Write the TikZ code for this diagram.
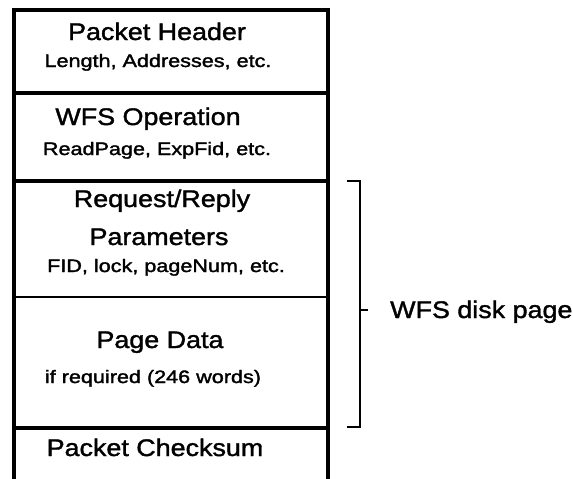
\documentclass[tikz,border=0pt]{standalone}
\usepackage{fontspec}
\newfontfamily\bigf[FakeStretch=1.12,FakeBold=1.5]{Liberation Sans}
\newfontfamily\smallf[FakeStretch=1.2,FakeBold=1.8]{Liberation Sans}
\tikzset{
  big/.style={font=\bigf\fontsize{24}{28}\selectfont, inner sep=0pt, anchor=base},
  small/.style={font=\smallf\fontsize{18}{22}\selectfont, inner sep=0pt, anchor=base},
  thick line/.style={line width=4.5pt},
  divider/.style={line width=3.5pt},
  thin divider/.style={line width=2.5pt},
  bracket/.style={line width=2pt}
}
\begin{document}
\begin{tikzpicture}[x=1pt,y=-1pt]
\useasboundingbox (0,0) rectangle (573,479);
% frame
\coordinate (tl) at (14,10);
\coordinate (tr) at (328,10);
\coordinate (bl) at (14,479);
\coordinate (br) at (328,479);
\draw[thick line] (bl) -- (tl) -- (tr) -- (br);
% dividers
\coordinate (d1l) at (14,93);  \coordinate (d1r) at (328,93);
\coordinate (d2l) at (14,181); \coordinate (d2r) at (328,181);
\coordinate (d3l) at (14,297); \coordinate (d3r) at (328,297);
\coordinate (d4l) at (14,428); \coordinate (d4r) at (328,428);
\draw[divider] (d1l) -- (d1r);
\draw[divider] (d2l) -- (d2r);
\draw[thin divider] (d3l) -- (d3r);
\draw[divider] (d4l) -- (d4r);
% texts
\node[big]   (ph)  at (157,40)  {Packet Header};
\node[small] (ph2) at (158,67)  {Length, Addresses, etc.};
\node[big]   (op)  at (148,125) {WFS Operation};
\node[small] (op2) at (157,155) {ReadPage, ExpFid, etc.};
\node[big]   (rr)  at (162,207) {Request/Reply};
\node[big]   (rr2) at (159,245) {Parameters};
\node[small] (rr3) at (166,272) {FID, lock, pageNum, etc.};
\node[big]   (pd)  at (160,348) {Page Data};
\node[small] (pd2) at (153,383) {if required (246 words)};
\node[big]   (pc)  at (155,456) {Packet Checksum};
% bracket
\coordinate (bt0) at (347,181);
\coordinate (bt1) at (360,181);
\coordinate (bb1) at (360,427);
\coordinate (bb0) at (347,427);
\coordinate (bm) at (360,310);
\coordinate (bm2) at (368,310);
\draw[bracket] (bt0) -- (bt1) -- (bb1) -- (bb0);
\draw[bracket] (bm) -- (bm2);
\node[big, anchor=base west] (wfs) at (390,318) {WFS disk page};
\end{tikzpicture}
\end{document}
